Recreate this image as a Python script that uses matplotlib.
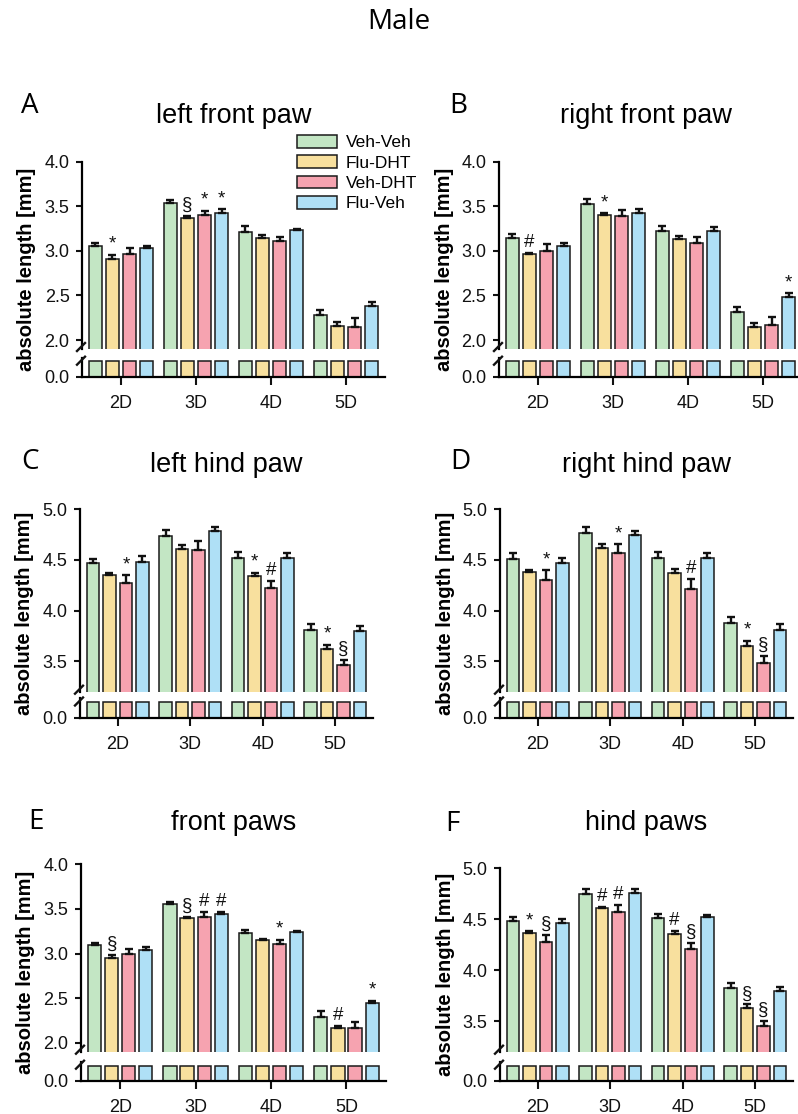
import numpy as np
import matplotlib
matplotlib.use("Agg")
import matplotlib.pyplot as plt
from matplotlib.lines import Line2D

plt.rcParams['font.family'] = ['Liberation Sans', 'DejaVu Sans']

# ---------------- data ----------------
digits = ['2D', '3D', '4D', '5D']
groups = ['Veh-Veh', 'Flu-DHT', 'Veh-DHT', 'Flu-Veh']
colors = ['#c3e6c4', '#f8e09e', '#f6a3b0', '#afe0f6']

# rows = groups, columns = digits
a_mean = [[3.05, 3.54, 3.21, 2.28], [2.91, 3.37, 3.14, 2.156], [2.96, 3.40, 3.11, 2.15], [3.03, 3.42, 3.23, 2.38]]
a_sem = [[0.04, 0.025, 0.065, 0.055], [0.045, 0.02, 0.04, 0.045], [0.07, 0.05, 0.05, 0.095], [0.03, 0.045, 0.02, 0.045]]
a_sig = [(0, 1, '*'), (1, 1, '§'), (1, 2, '*'), (1, 3, '*')]

b_mean = [[3.14, 3.53, 3.22, 2.31], [2.96, 3.40, 3.13, 2.15], [3.00, 3.39, 3.09, 2.17], [3.05, 3.43, 3.22, 2.48]]
b_sem = [[0.045, 0.055, 0.055, 0.065], [0.02, 0.02, 0.04, 0.04], [0.08, 0.07, 0.065, 0.085], [0.04, 0.04, 0.045, 0.045]]
b_sig = [(0, 1, '#'), (1, 1, '*'), (3, 3, '*')]

c_mean = [[4.47, 4.74, 4.515, 3.81], [4.35, 4.61, 4.34, 3.62], [4.275, 4.595, 4.22, 3.46], [4.48, 4.785, 4.515, 3.80]]
c_sem = [[0.04, 0.06, 0.06, 0.055], [0.025, 0.035, 0.035, 0.045], [0.075, 0.09, 0.07, 0.05], [0.055, 0.045, 0.05, 0.045]]
c_sig = [(0, 2, '*'), (2, 1, '*'), (2, 2, '#'), (3, 1, '*'), (3, 2, '§')]

d_mean = [[4.505, 4.77, 4.515, 3.88], [4.38, 4.62, 4.37, 3.65], [4.30, 4.57, 4.21, 3.48], [4.475, 4.745, 4.515, 3.805]]
d_sem = [[0.06, 0.06, 0.06, 0.06], [0.02, 0.035, 0.04, 0.05], [0.10, 0.085, 0.10, 0.07], [0.045, 0.045, 0.05, 0.065]]
d_sig = [(0, 2, '*'), (1, 2, '*'), (2, 2, '#'), (3, 1, '*'), (3, 2, '§')]

e_mean = [[3.095, 3.553, 3.23, 2.29], [2.95, 3.40, 3.147, 2.164], [2.994, 3.415, 3.11, 2.164], [3.043, 3.441, 3.236, 2.447]]
e_sem = [[0.02, 0.02, 0.037, 0.065], [0.03, 0.015, 0.02, 0.022], [0.055, 0.045, 0.045, 0.07], [0.026, 0.023, 0.02, 0.026]]
e_sig = [(0, 1, '§'), (1, 1, '§'), (1, 2, '#'), (1, 3, '#'), (2, 2, '*'), (3, 1, '#'), (3, 3, '*')]

f_mean = [[4.478, 4.744, 4.508, 3.828], [4.367, 4.609, 4.353, 3.628], [4.278, 4.573, 4.212, 3.451], [4.465, 4.76, 4.518, 3.792]]
f_sem = [[0.04, 0.053, 0.046, 0.05], [0.013, 0.014, 0.03, 0.036], [0.066, 0.063, 0.056, 0.05], [0.04, 0.04, 0.022, 0.043]]
f_sig = [(0, 1, '*'), (0, 2, '§'), (1, 1, '#'), (1, 2, '#'), (2, 1, '#'), (2, 2, '§'), (3, 1, '§'), (3, 2, '§')]

front_ticks = [2.0, 2.5, 3.0, 3.5, 4.0]
hind_ticks = [3.5, 4.0, 4.5, 5.0]

# ---------------- layout ----------------
W, H = 798, 1114
fig = plt.figure(figsize=(W / 100, H / 100), dpi=100)


def fx(x):
    return x / W


def fy(y):
    return 1 - y / H


panels = [
    dict(letter='A', title='left front paw', mean=a_mean, sem=a_sem, sig=a_sig, ylim=(1.9, 4.0), ticks=front_ticks,
         left=82, right=385, top=161.7, brk=349, axis=376.7, title_y=116, letter_xy=(30, 106)),
    dict(letter='B', title='right front paw', mean=b_mean, sem=b_sem, sig=b_sig, ylim=(1.9, 4.0), ticks=front_ticks,
         left=499, right=802, top=161.7, brk=349, axis=376.7, title_y=116, letter_xy=(458, 106)),
    dict(letter='C', title='left hind paw', mean=c_mean, sem=c_sem, sig=c_sig, ylim=(3.2, 5.0), ticks=hind_ticks,
         left=80, right=373, top=509.3, brk=691.7, axis=717.5, title_y=465, letter_xy=(30, 462)),
    dict(letter='D', title='right hind paw', mean=d_mean, sem=d_sem, sig=d_sig, ylim=(3.2, 5.0), ticks=hind_ticks,
         left=500, right=793, top=509.3, brk=691.7, axis=717.5, title_y=465, letter_xy=(460, 462)),
    dict(letter='E', title='front paws', mean=e_mean, sem=e_sem, sig=e_sig, ylim=(1.9, 4.0), ticks=front_ticks,
         left=81, right=385.7, top=864.3, brk=1051.7, axis=1080.7, title_y=823, letter_xy=(36, 822)),
    dict(letter='F', title='hind paws', mean=f_mean, sem=f_sem, sig=f_sig, ylim=(3.2, 5.0), ticks=hind_ticks,
         left=500, right=793, top=868.3, brk=1051.7, axis=1080.7, title_y=823, letter_xy=(452, 824)),
]

n_g = len(groups)
x = np.arange(len(digits))
pitch = 0.227
width = 0.175
offsets = (np.arange(n_g) - (n_g - 1) / 2) * pitch
low_h = 19          # pixel height of the lower (0.0) segment
low_lim = 0.2
stub = 0.16
lw_axis = 1.6

legend_handles = None

for p in panels:
    L, R, T, B, A = p['left'], p['right'], p['top'], p['brk'], p['axis']
    ax_t = fig.add_axes([fx(L), fy(B), fx(R) - fx(L), fy(T) - fy(B)])
    ax_b = fig.add_axes([fx(L), fy(A), fx(R) - fx(L), fy(A - low_h) - fy(A)])
    mean = np.array(p['mean'])
    sem = np.array(p['sem'])

    handles = []
    for gi in range(n_g):
        xs = x + offsets[gi]
        h = ax_t.bar(xs, mean[gi], width=width, color=colors[gi], edgecolor='#1a1a1a', linewidth=1.1,
                     bottom=0, zorder=2, label=groups[gi])
        handles.append(h)
        ax_t.errorbar(xs, mean[gi], yerr=[np.zeros(len(digits)), sem[gi]], fmt='none', ecolor='#111111',
                      elinewidth=1.7, capsize=3.2, capthick=1.7, zorder=3)
        ax_b.bar(xs, np.minimum(mean[gi], stub), width=width, color=colors[gi], edgecolor='#1a1a1a',
                 linewidth=1.1, zorder=2)
    if legend_handles is None:
        legend_handles = handles
        ax_t.legend(handles, groups, loc='upper left', bbox_to_anchor=(fx(297), fy(135)),
                    bbox_transform=fig.transFigure, frameon=False, fontsize=12.5, handlelength=2.3,
                    handleheight=0.75, handletextpad=0.5, labelspacing=0.28, borderpad=0, borderaxespad=0)

    for (di, gi, s) in p['sig']:
        ax_t.annotate(s, xy=(x[di] + offsets[gi], mean[gi][di] + sem[gi][di]), xytext=(0, 1.5),
                      textcoords='offset points', ha='center', va='bottom', fontsize=13.5, color='#111111',
                      zorder=4)

    # top axis styling
    ax_t.set_xlim(-0.52, 3.52)
    ax_t.set_ylim(*p['ylim'])
    ax_t.set_yticks(p['ticks'])
    ax_t.set_yticklabels([f'{t:.1f}' for t in p['ticks']])
    ax_t.set_xticks([])
    for s in ['top', 'right', 'bottom']:
        ax_t.spines[s].set_visible(False)
    ax_t.spines['left'].set_linewidth(lw_axis)
    ax_t.tick_params(axis='y', direction='out', length=4, width=1.5, labelsize=13, pad=5, colors='#111111')
    ax_t.patch.set_alpha(0)

    # bottom axis styling
    ax_b.set_xlim(-0.52, 3.52)
    ax_b.set_ylim(0, low_lim)
    ax_b.set_yticks([0.0])
    ax_b.set_yticklabels(['0.0'])
    ax_b.set_xticks(x)
    ax_b.set_xticklabels(digits)
    for s in ['top', 'right']:
        ax_b.spines[s].set_visible(False)
    ax_b.spines['left'].set_linewidth(lw_axis)
    ax_b.spines['bottom'].set_linewidth(lw_axis)
    ax_b.tick_params(axis='y', direction='out', length=4, width=1.5, labelsize=13, pad=5, colors='#111111')
    ax_b.tick_params(axis='x', direction='out', length=6, width=1.5, labelsize=13, pad=7, colors='#111111')
    ax_b.patch.set_alpha(0)

    # break marks on the left spine
    for yc in (B - 2, A - low_h + 3):
        fig.add_artist(Line2D([fx(L - 5), fx(L + 3)], [fy(yc + 4), fy(yc - 4)], transform=fig.transFigure,
                              color='#111111', linewidth=1.7))

    # titles, letters, y label
    fig.text(fx((L + R) / 2 if R < 800 else (L + 793) / 2), fy(p['title_y']), p['title'], ha='center',
             va='center', fontsize=19.5)
    fig.text(fx(p['letter_xy'][0]), fy(p['letter_xy'][1]), p['letter'], ha='center', va='center',
             fontsize=20, family=['Open Sans', 'DejaVu Sans'])
    fig.text(fx(L - 55), fy((T + A) / 2), 'absolute length [mm]', rotation=90, ha='center', va='center',
             fontsize=14.5, fontweight='bold')

fig.text(0.5, fy(22), 'Male', ha='center', va='center', fontsize=20, family=['Open Sans', 'DejaVu Sans'])

fig.savefig('out.png', dpi=100)
